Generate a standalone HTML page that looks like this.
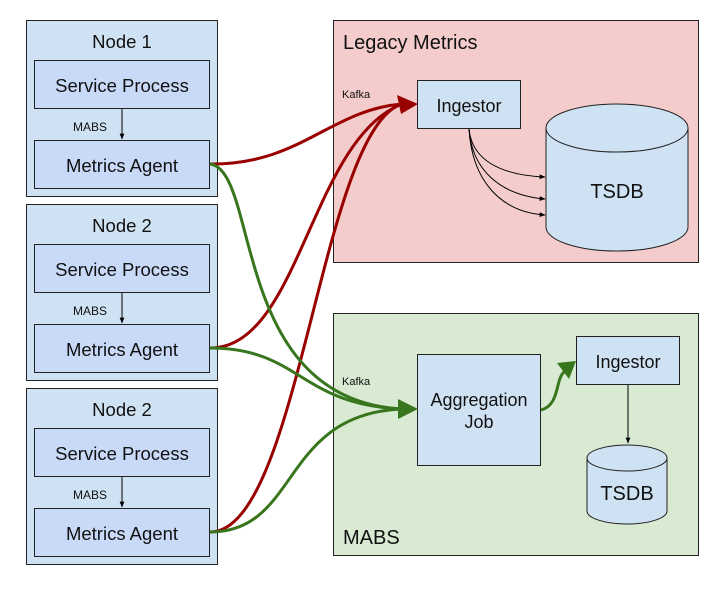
<!DOCTYPE html>
<html><head><style>
body{margin:0;background:#fff;width:720px;height:588px;overflow:hidden}
svg text{font-family:"Liberation Sans",Arial,sans-serif;fill:#111}
</style></head><body>
<svg width="720" height="588" viewBox="0 0 720 588" xmlns="http://www.w3.org/2000/svg">
<defs>
<marker id="ab" viewBox="0 0 10 10" refX="9" refY="5" markerWidth="6" markerHeight="6" orient="auto"><path d="M0,1L10,5L0,9z" fill="#000"/></marker>
</defs>
<!-- Legacy -->
<rect x="333.5" y="20.5" width="365" height="242" fill="#f4cccc" stroke="#222"/>
<text x="343" y="49" font-size="20">Legacy Metrics</text>
<text x="342" y="98" font-size="11">Kafka</text>
<rect x="417.5" y="80.5" width="103" height="48" fill="#cfe2f3" stroke="#222"/>
<text x="469" y="112" font-size="18" text-anchor="middle">Ingestor</text>
<path d="M546,128 L546,227 A71,24 0 0 0 688,227 L688,128" fill="#cfe2f3" stroke="#222"/>
<ellipse cx="617" cy="128" rx="71" ry="24" fill="#cfe2f3" stroke="#222"/>
<text x="617" y="198" font-size="20" text-anchor="middle">TSDB</text>
<g fill="none" stroke="#000" stroke-width="1" marker-end="url(#ab)">
<path d="M469,129 C472,160 500,175 545,177"/>
<path d="M469,129 C472,170 500,195 545,199"/>
<path d="M469,129 C472,180 500,212 545,215"/>
</g>
<!-- MABS -->
<rect x="333.5" y="313.5" width="365" height="242" fill="#d9ead3" stroke="#222"/>
<text x="343" y="544" font-size="20">MABS</text>
<text x="342" y="385" font-size="11">Kafka</text>
<rect x="417.5" y="354.5" width="123" height="111" fill="#cfe2f3" stroke="#222"/>
<text x="479" y="406" font-size="18" text-anchor="middle">Aggregation</text>
<text x="479" y="428" font-size="18" text-anchor="middle">Job</text>
<rect x="576.5" y="336.5" width="103" height="48" fill="#cfe2f3" stroke="#222"/>
<text x="628" y="368" font-size="18" text-anchor="middle">Ingestor</text>
<line x1="628" y1="385" x2="628" y2="443" stroke="#000" marker-end="url(#ab)"/>
<path d="M587,458 L587,511 A40,13 0 0 0 667,511 L667,458" fill="#cfe2f3" stroke="#222"/>
<ellipse cx="627" cy="458" rx="40" ry="13" fill="#cfe2f3" stroke="#222"/>
<text x="627" y="500" font-size="20" text-anchor="middle">TSDB</text>
<!-- Nodes -->
<g id="n">
<rect x="26.5" y="20.5" width="191" height="176" fill="#cfe2f3" stroke="#222"/>
<rect x="34.5" y="60.5" width="175" height="48" fill="#c9daf8" stroke="#222"/>
<text x="122" y="92" font-size="18.5" text-anchor="middle">Service Process</text>
<rect x="34.5" y="140.5" width="175" height="48" fill="#c9daf8" stroke="#222"/>
<text x="122" y="172" font-size="18.5" text-anchor="middle">Metrics Agent</text>
<line x1="122" y1="109" x2="122" y2="139" stroke="#000" marker-end="url(#ab)"/>
<text x="90" y="131" font-size="12" text-anchor="middle">MABS</text>
</g>
<text x="122" y="48" font-size="18.5" text-anchor="middle">Node 1</text>
<use href="#n" y="184"/>
<text x="122" y="232" font-size="18.5" text-anchor="middle">Node 2</text>
<use href="#n" y="368"/>
<text x="122" y="416" font-size="18.5" text-anchor="middle">Node 2</text>
<!-- connectors -->
<g fill="none" stroke-width="3">
<path d="M210,164 C300,165 330,110 402,104" stroke="#990000"/>
<path d="M210,348 C300,348 310,140 402,104" stroke="#990000"/>
<path d="M210,532 C300,532 320,130 402,104" stroke="#990000"/>
<path d="M210,164 C260,170 230,400 402,409" stroke="#38761d"/>
<path d="M210,348 C300,348 300,405 402,409" stroke="#38761d"/>
<path d="M210,532 C300,532 280,414 402,409" stroke="#38761d"/>
<path d="M541,410 C560,405 555,380 564,372" stroke="#38761d"/>
</g>
<path d="M418,104 L397,95 L401,114 z" fill="#990000"/>
<path d="M418,409 L398,399 L398,419 z" fill="#38761d"/>
<path d="M576,361 L557,363 L569,379 z" fill="#38761d"/>
</svg>
</body></html>
